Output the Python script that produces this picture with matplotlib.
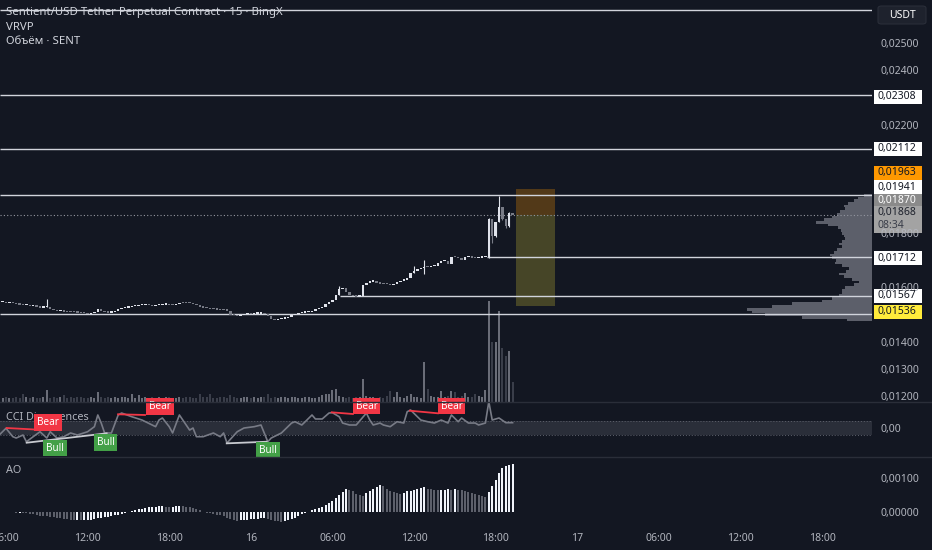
import numpy as np
import matplotlib
matplotlib.use('Agg')
import matplotlib.pyplot as plt
from matplotlib.patches import Rectangle, FancyBboxPatch
from matplotlib.lines import Line2D
from matplotlib.ticker import FuncFormatter

plt.rcParams['font.family'] = ['Noto Sans', 'DejaVu Sans']

# ---------------- data ----------------
# 15 min candles, first one at 05:30 on the 15th (hours from 15th 00:00)
t_first = 5.5
closes = [
    0.01545, 0.01547, 0.01543, 0.01545, 0.01541, 0.01539, 0.01537, 0.01535, 0.01537, 0.01532,
    0.01532, 0.01529, 0.01526, 0.01528, 0.01529, 0.01521, 0.01517, 0.01513, 0.01514, 0.01511,
    0.01510, 0.01509, 0.01508, 0.01507, 0.01506, 0.01505, 0.01502, 0.01506, 0.01508, 0.01519,
    0.01513, 0.01510, 0.01507, 0.01508, 0.01513, 0.01521, 0.01524, 0.01526, 0.01528, 0.01530,
    0.01532, 0.01534, 0.01535, 0.01536, 0.01534, 0.01532, 0.01534, 0.01535, 0.01536, 0.01537,
    0.01535, 0.01534, 0.01539, 0.01544, 0.01543, 0.01542, 0.01541, 0.01539, 0.01534, 0.01529,
    0.01526, 0.01523, 0.01521, 0.01520, 0.01518, 0.01517, 0.01516, 0.01515, 0.01499, 0.01497,
    0.01495, 0.01499, 0.01502, 0.01503, 0.01502, 0.01503, 0.01504, 0.01507, 0.01502, 0.01495,
    0.01483, 0.01480, 0.01482, 0.01485, 0.01487, 0.01491, 0.01499, 0.01502, 0.01505, 0.01507,
    0.01508, 0.01510, 0.01515, 0.01521, 0.01524, 0.01529, 0.01539, 0.01547, 0.01554, 0.01572,
    0.01594, 0.01597, 0.01582, 0.01574, 0.01569, 0.01566, 0.01567, 0.01609, 0.01618, 0.01622,
    0.01625, 0.01615, 0.01614, 0.01613, 0.01612, 0.01609, 0.01613, 0.01620, 0.01625, 0.01628,
    0.01635, 0.01652, 0.01662, 0.01667, 0.01672, 0.01677, 0.01676, 0.01678, 0.01681, 0.01691,
    0.01696, 0.01699, 0.01687, 0.01714, 0.01711, 0.01708, 0.01701, 0.01712, 0.01716, 0.01708,
    0.01707, 0.01710, 0.01711, 0.01712, 0.01852, 0.01790, 0.01841, 0.01897, 0.01852, 0.01826,
    0.01874, 0.01868]
first_open = 0.01546
# notable wicks: index -> (high, low)
wicks = {14: (0.01558, 0.01527), 100: (0.01605, 0.01572), 122: (0.01680, 0.01652),
         125: (0.01701, 0.01650), 144: (0.01856, 0.01709), 145: (0.01852, 0.01764),
         146: (0.01841, 0.01786), 147: (0.01938, 0.01841), 148: (0.01897, 0.01850),
         149: (0.01852, 0.01819), 150: (0.01878, 0.01823)}

volumes = [
    55, 40, 55, 45, 40, 55, 45, 78, 50, 40,
    55, 45, 40, 55, 118, 45, 55, 40, 50, 74,
    45, 55, 40, 50, 55, 45, 40, 55, 45, 98,
    50, 40, 55, 45, 55, 40, 50, 55, 45, 78,
    45, 68, 40, 55, 45, 50, 40, 55, 45, 50,
    55, 40, 45, 55, 40, 50, 55, 45, 40, 78,
    50, 55, 85, 45, 40, 55, 50, 45, 68, 55,
    45, 40, 55, 50, 45, 55, 40, 50, 55, 78,
    45, 55, 40, 50, 55, 45, 50, 55, 40, 45,
    55, 50, 40, 45, 55, 68, 78, 85, 125, 135,
    60, 55, 45, 50, 40, 55, 50, 230, 60, 55,
    50, 45, 55, 40, 60, 108, 55, 98, 50, 45,
    60, 85, 55, 50, 45, 396, 135, 60, 55, 50,
    110, 55, 60, 108, 100, 55, 60, 90, 50, 55,
    85, 60, 55, 125, 1010, 600, 600, 910, 537, 457,
    514, 203]

# Awesome Oscillator, units of 1e-5
ao = [
    -1, -1, -2, -2, -2, -3, -3, -4, -5, -6,
    -8, -10, -12, -13, -14, -16, -17, -18, -20, -21,
    -23, -25, -26, -25, -26, -25, -24, -24, -23, -20,
    -18, -16, -15, -13, -11, -9, -6, -4, -1, 2,
    4, 6, 8, 10, 12, 13, 14, 15, 15, 14,
    13, 14, 15, 16, 15, 14, 13, 10, 6, 3,
    0, -3, -5, -7, -9, -11, -14, -18, -22, -25,
    -27, -26, -25, -24, -23, -22, -21, -20, -19, -21,
    -24, -27, -29, -30, -29, -26, -22, -18, -13, -8,
    -4, 0, 3, 7, 10, 14, 20, 26, 32, 40,
    48, 58, 66, 64, 60, 52, 48, 47, 54, 62,
    68, 74, 79, 76, 68, 62, 57, 54, 52, 56,
    60, 62, 64, 67, 70, 72, 68, 66, 65, 64,
    64, 65, 66, 65, 66, 64, 63, 62, 58, 55,
    52, 50, 47, 44, 57, 75, 95, 115, 130, 136,
    138, 142]

# CCI read at candle indices
cci_idx = [0, 2, 4, 5, 7, 8, 10, 12, 14, 15, 17, 19, 21, 23, 26, 28, 29, 30, 31, 33,
           35, 36, 39, 42, 46, 47, 48, 50, 51, 53, 54, 56, 57, 58, 60, 63, 65, 66, 67, 70,
           72, 75, 77, 79, 80, 83, 86, 87, 89, 90, 92, 93, 95, 97, 98, 100, 101, 103, 105, 108,
           109, 110, 112, 113, 115, 117, 119, 120, 121, 123, 124, 126, 128, 130, 132, 133, 135, 136, 138, 140,
           141, 143, 144, 145, 147, 149, 151]
cci_val = [-100, -4, -124, -143, -100, -196, -124, -53, -143, -53, -143, -124, -71, -100, -53, 19, 186, 71, -71, -71,
           186, 214, 161, 114, 19, 114, 143, 19, -71, 186, 114, -29, 0, -124, -124, -71, -124, -71, -214, -53,
           0, 19, 43, -196, -143, -71, 71, 90, 43, 90, 186, 129, 129, 214, 219, 161, 71, 43, 43, 214,
           114, 43, 71, 43, 19, 90, 71, 233, 257, 161, 114, 90, 71, 114, 71, 186, 90, 143, 71, 71,
           43, 71, 376, 114, 143, 76, 76]

# divergence segments (hours, cci)
bear_lines = [((6.05, 8.87), (0, -29)), ((14.24, 16.22), (196, 186)),
              ((29.95, 31.51), (224, 200)), ((35.7, 37.76), (247, 210))]
bull_lines = [((7.52, 13.4), (-210, -76)), ((22.23, 25.17), (-219, -196))]
bear_tags = [(9.09, 76), (17.32, 304), (32.52, 314), (38.77, 314)]
bull_tags = [(9.6, -286), (13.33, -204), (25.26, -324)]

# horizontal levels: price, start hour (None = from left edge)
levels = [0.02623, 0.02308, 0.02112, 0.01941, 0.01712, 0.01567, 0.01503]
level_start = [None, None, None, None, 41.37, 30.56, None]
last_price = 0.01868

# position tool
pos_t0, pos_t1 = 43.5, 46.4
pos_stop, pos_entry, pos_target = 0.01963, 0.01868, 0.01532

# visible range volume profile, 0.0001 bins from 0.0148 to 0.0194
vrvp_price = np.round(np.linspace(0.0148, 0.0194, 47), 4)
vrvp_vol = [25, 70, 107, 120, 125, 100, 80, 50, 40, 33,
            30, 30, 27, 18, 13, 20, 28, 33, 26, 23,
            30, 37, 36, 40, 42, 38, 35, 30, 33, 30,
            27, 28, 30, 31, 34, 44, 56, 48, 40, 35,
            32, 27, 28, 24, 18, 14, 8]

# time axis
time_ticks = [6, 12, 18, 24, 30, 36, 42, 48, 54, 60, 66]
time_labels = ['06:00', '12:00', '18:00', '16', '06:00', '12:00', '18:00', '17', '06:00', '12:00', '18:00']

# right price scale boxes: text, y pixel, face, text colour
price_boxes = [('0,02308', 97, '#ffffff', '#131722'),
               ('0,02112', 148.7, '#ffffff', '#131722'),
               ('0,01963', 172.7, '#ff9800', '#131722'),
               ('0,01941', 187, '#ffffff', '#131722'),
               ('0,01870', 201, '#8a8a8a', '#ffffff'),
               ('0,01712', 258, '#ffffff', '#131722'),
               ('0,01567', 295.7, '#ffffff', '#131722'),
               ('0,01536', 311.7, '#ffeb3b', '#131722')]

# ---------------- drawing ----------------
BG = '#131722'
TXT = '#b2b5be'
W, H = 932, 550


def fx(px):
    return px / W


def fy(py):
    return 1 - py / H


def comma(v, _=None):
    return f'{v:.5f}'.replace('.', ',')


closes = np.array(closes)
n = len(closes)
t = t_first + 0.25 * np.arange(n)
opens = np.r_[first_open, closes[:-1]]
up = closes >= opens

fig = plt.figure(figsize=(9.32, 5.5), dpi=100, facecolor=BG)

# volume pane (behind)
axv = fig.add_axes([0, fy(402), fx(872), 402 / H])
axv.set_facecolor(BG)
axv.set_xlim(5.5588, 69.676)
axv.set_ylim(0, 4020)
axv.bar(t, volumes, width=0.16, color=np.where(up, '#6a6d78', '#3a3e4a'))
axv.axis('off')

# price pane
ax = fig.add_axes([0, fy(402), fx(872), 402 / H], sharex=axv)
ax.patch.set_visible(False)
ax.set_ylim(0.011779, 0.026596)
lo_b = np.minimum(opens, closes)
hgt = np.maximum(np.abs(closes - opens), 0.00005)
ax.bar(t, hgt, bottom=lo_b, width=0.17, color=np.where(up, '#e0e3eb', '#787b86'), zorder=3)
for i, (hi, lo) in wicks.items():
    ax.vlines(t[i], lo, hi, color='#e0e3eb' if up[i] else '#787b86', lw=0.8, zorder=3)

for lv, st in zip(levels, level_start):
    x0 = st if st is not None else 5.5588
    ax.hlines(lv, x0, 69.676, color='#d1d4dc', lw=1, zorder=2)
ax.axhline(last_price, color='#9598a1', lw=0.8, ls=(0, (1, 2)), zorder=2)

ax.add_patch(Rectangle((pos_t0, pos_entry), pos_t1 - pos_t0, pos_stop - pos_entry,
                       facecolor='#ff9800', alpha=0.27, lw=0, zorder=1))
ax.add_patch(Rectangle((pos_t0, pos_target), pos_t1 - pos_t0, pos_entry - pos_target,
                       facecolor='#ffeb3b', alpha=0.22, lw=0, zorder=1))

ax.yaxis.tick_right()
ax.set_yticks([0.012, 0.013, 0.014, 0.016, 0.018, 0.022, 0.024, 0.025])
ax.yaxis.set_major_formatter(FuncFormatter(comma))
ax.tick_params(axis='y', length=0, pad=6, labelsize=7.5, colors=TXT)
ax.tick_params(axis='x', bottom=False, labelbottom=False)
for s in ax.spines.values():
    s.set_visible(False)

# volume profile
axp = fig.add_axes([fx(744), fy(402), fx(128), 402 / H], sharey=ax)
axp.patch.set_visible(False)
axp.barh(vrvp_price, vrvp_vol, height=0.0001, color='#6a6d78', alpha=0.85, lw=0)
axp.set_xlim(128, 0)
axp.axis('off')

axv.set_zorder(0)
axp.set_zorder(1)
ax.set_zorder(2)

# CCI pane
axc = fig.add_axes([0, fy(457), fx(872), 55 / H], sharex=axv)
axc.set_facecolor(BG)
axc.set_ylim(-414, 371.5)
axc.axhspan(-100, 100, color='#2a2e39', lw=0)
axc.axhline(100, color='#5d606b', lw=0.7, ls=(0, (1, 2)))
axc.axhline(-100, color='#5d606b', lw=0.7, ls=(0, (1, 2)))
axc.plot(t[cci_idx], cci_val, color='#787b86', lw=1.2)
for xs, ys in bear_lines:
    axc.plot(xs, ys, color='#f23645', lw=1.3)
for xs, ys in bull_lines:
    axc.plot(xs, ys, color='#c8cad0', lw=1.3)
axc.text(0.007, 0.72, 'CCI Divergences', transform=axc.transAxes, color=TXT, fontsize=7.8, va='center')
for x, y in bear_tags:
    axc.text(x, y, 'Bear', color='white', fontsize=7.2, fontweight='bold', ha='center', va='center',
             clip_on=False, bbox=dict(boxstyle='square,pad=0.28', fc='#f23645', ec='none'))
for x, y in bull_tags:
    axc.text(x, y, 'Bull', color='white', fontsize=7.2, fontweight='bold', ha='center', va='center',
             clip_on=False, bbox=dict(boxstyle='square,pad=0.28', fc='#43a047', ec='none'))
axc.yaxis.tick_right()
axc.set_yticks([0])
axc.set_yticklabels(['0,00'])
axc.tick_params(axis='y', length=0, pad=6, labelsize=7.5, colors=TXT)
axc.tick_params(axis='x', bottom=False, labelbottom=False)
for s in axc.spines.values():
    s.set_visible(False)

# AO pane
axa = fig.add_axes([0, fy(525), fx(872), 68 / H], sharex=axv)
axa.set_facecolor(BG)
ao_v = np.array(ao) * 1e-5
ao_up = np.r_[True, ao_v[1:] >= ao_v[:-1]]
axa.bar(t, ao_v, width=0.16, color=np.where(ao_up, '#f0f3fa', '#5d606b'))
axa.set_ylim(-0.000403, 0.001627)
axa.text(0.007, 0.8, 'AO', transform=axa.transAxes, color=TXT, fontsize=7.8, va='center')
axa.yaxis.tick_right()
axa.set_yticks([0, 0.001])
axa.yaxis.set_major_formatter(FuncFormatter(comma))
axa.tick_params(axis='y', length=0, pad=6, labelsize=7.5, colors=TXT)
axa.set_xticks(time_ticks)
axa.set_xticklabels(time_labels)
axa.tick_params(axis='x', length=0, pad=6, labelsize=7.5, colors=TXT)
for lbl in axa.get_xticklabels():
    if lbl.get_text() in ('16', '17'):
        lbl.set_fontweight('bold')
for s in axa.spines.values():
    s.set_visible(False)

# pane separators
for yy in (402, 457):
    fig.add_artist(Line2D([0, 1], [fy(yy), fy(yy)], color='#2a2e39', lw=1))

# header
fig.text(fx(6), fy(13), 'Sentient/USD Tether Perpetual Contract · 15 · BingX', color='#d1d4dc',
         fontsize=8.2, va='center')
fig.text(fx(6), fy(27), 'VRVP', color='#d1d4dc', fontsize=8.2, va='center')
fig.text(fx(6), fy(41), 'Объём · SENT', color='#d1d4dc', fontsize=8.2, va='center')

# currency box
fig.add_artist(FancyBboxPatch((fx(878), fy(24)), fx(48), 18 / H, boxstyle='round,pad=0,rounding_size=0.004',
                              transform=fig.transFigure, fc='#1e222d', ec='#2a2e39', lw=0.8))
fig.text(fx(902), fy(15), 'USDT', color='white', fontsize=7.5, fontweight='bold', ha='center', va='center')

# price boxes on the scale
for txt, yy, fc, tc in price_boxes:
    fig.add_artist(Rectangle((fx(874), fy(yy + 7)), fx(48), 14 / H, transform=fig.transFigure,
                             fc=fc, ec='none'))
    fig.text(fx(878), fy(yy), txt, color=tc, fontsize=7.5, va='center')
fig.add_artist(Rectangle((fx(874), fy(233)), fx(48), 27 / H, transform=fig.transFigure,
                         fc='#a3a3a3', ec='none'))
fig.text(fx(878), fy(212.5), comma(last_price), color='#1e222d', fontsize=7.5, va='center')
fig.text(fx(878), fy(226), '08:34', color='#3a3e4a', fontsize=7.5, va='center')

fig.savefig('out.png', dpi=100, facecolor=BG)
